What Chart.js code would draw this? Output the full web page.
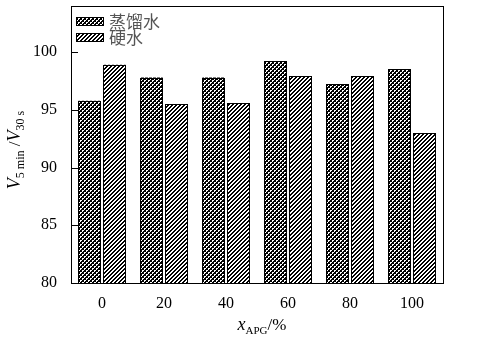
<!DOCTYPE html>
<html>
<head>
<meta charset="utf-8">
<script src="https://cdn.jsdelivr.net/npm/chart.js@4.4.1/dist/chart.umd.min.js"></script>
<style>
  html, body { margin: 0; padding: 0; background: #fff; }
  #wrap { width: 477px; height: 344px; }
</style>
</head>
<body>
<div id="wrap"><canvas id="grafico"></canvas></div>
<script>
// dados
var categorias = ['0', '20', '40', '60', '80', '100'];
var aguaDestilada = [95.8, 97.8, 97.8, 99.2, 97.2, 98.5];
var aguaDura = [98.9, 95.5, 95.6, 97.9, 97.9, 93.0];
var nomesSeries = ['蒸馏水', '硬水'];
var ticksY = [80, 85, 90, 95, 100];

var serif = '"Liberation Serif", "DejaVu Serif", serif';

// cria um padrão a partir de uma função que pinta pixels
function criaPadrao(tam, pinta) {
    var c = document.createElement('canvas');
    c.width = tam; c.height = tam;
    var g = c.getContext('2d');
    g.fillStyle = '#fff';
    g.fillRect(0, 0, tam, tam);
    g.fillStyle = '#000';
    for (var x = 0; x < tam; x++) {
        for (var y = 0; y < tam; y++) {
            if (pinta(x, y)) g.fillRect(x, y, 1, 1);
        }
    }
    return document.createElement('canvas').getContext('2d').createPattern(c, 'repeat');
}

// xadrez com pontos brancos em diagonal
var padraoXadrez = criaPadrao(4, function(x, y) {
    var branco = (x < 2 && y < 2 && !(x === 1 && y === 1)) ||
                 (x >= 2 && y >= 2 && !(x === 3 && y === 3));
    return !branco;
});
// hachura diagonal
var padraoHachura = criaPadrao(4, function(x, y) {
    return (x + y) % 4 === 0 || (x + y) % 4 === 1;
});
var padroes = [padraoXadrez, padraoHachura];

// contorno nítido das barras, a partir dos elementos do próprio gráfico
var contornos = {
    id: 'contornos',
    afterDatasetsDraw: function(chart) {
        var ctx = chart.ctx;
        var fundo = chart.chartArea.bottom;
        ctx.save();
        ctx.strokeStyle = '#000';
        ctx.lineWidth = 1;
        chart.data.datasets.forEach(function(ds, i) {
            chart.getDatasetMeta(i).data.forEach(function(bar) {
                var x0 = Math.round(bar.x - bar.width / 2);
                var x1 = Math.round(bar.x + bar.width / 2);
                var y0 = Math.round(bar.y);
                var y1 = Math.round(Math.min(bar.base, fundo));
                ctx.strokeRect(x0 + 0.5, y0 + 0.5, x1 - x0 - 1, y1 - y0);
            });
        });
        ctx.restore();
    }
};

// moldura, ticks internos, legenda e títulos dos eixos
var extras = {
    id: 'extras',
    afterDraw: function(chart) {
        var ctx = chart.ctx;
        var a = chart.chartArea;
        var y = chart.scales.y;
        ctx.save();
        ctx.strokeStyle = '#000';
        ctx.lineWidth = 1;
        ctx.strokeRect(Math.round(a.left) + 0.5, Math.round(a.top) + 0.5,
                       Math.round(a.right - a.left), Math.round(a.bottom - a.top));
        ticksY.forEach(function(v) {
            var py = Math.round(y.getPixelForValue(v)) + 0.5;
            ctx.beginPath();
            ctx.moveTo(a.left, py);
            ctx.lineTo(a.left + 7, py);
            ctx.stroke();
        });

        // legenda
        nomesSeries.forEach(function(nome, i) {
            var ly = 17 + i * 16;
            ctx.fillStyle = padroes[i];
            ctx.fillRect(76, ly, 28, 9);
            ctx.strokeStyle = '#000';
            ctx.strokeRect(76.5, ly + 0.5, 27, 8);
            ctx.fillStyle = '#555';
            ctx.font = '17px "Noto Sans CJK SC"';
            ctx.textBaseline = 'middle';
            ctx.textAlign = 'left';
            ctx.fillText(nome, 109, ly + 5);
        });

        // título do eixo x
        ctx.fillStyle = '#000';
        ctx.textBaseline = 'alphabetic';
        var partesX = [
            { t: 'x', f: 'italic 18px ' + serif, dy: 0 },
            { t: 'APG', f: '11px ' + serif, dy: 4 },
            { t: '/%', f: '17px ' + serif, dy: 0 }
        ];
        desenhaPartes(ctx, partesX, 262, 330);

        // título do eixo y (rotacionado)
        ctx.save();
        ctx.translate(20, 150);
        ctx.rotate(-Math.PI / 2);
        var partesY = [
            { t: 'V', f: 'italic 18px ' + serif, dy: 0 },
            { t: '5 min', f: '12px ' + serif, dy: 4 },
            { t: ' /', f: '17px ' + serif, dy: 0 },
            { t: 'V', f: 'italic 18px ' + serif, dy: 0 },
            { t: '30 s', f: '12px ' + serif, dy: 4 }
        ];
        desenhaPartes(ctx, partesY, 0, 0);
        ctx.restore();
        ctx.restore();
    }
};

function desenhaPartes(ctx, partes, cx, by) {
    var total = 0;
    partes.forEach(function(p) { ctx.font = p.f; p.w = ctx.measureText(p.t).width; total += p.w; });
    var x = cx - total / 2;
    ctx.textAlign = 'left';
    partes.forEach(function(p) {
        ctx.font = p.f;
        ctx.fillText(p.t, x, by + p.dy);
        x += p.w;
    });
}

var ctx = document.getElementById('grafico').getContext('2d');
var grafico = new Chart(ctx, {
    type: 'bar',
    data: {
        labels: categorias,
        datasets: [{
            label: nomesSeries[0],
            data: aguaDestilada,
            backgroundColor: padraoXadrez,
            borderWidth: 0,
            inflateAmount: 0
        }, {
            label: nomesSeries[1],
            data: aguaDura,
            backgroundColor: padraoHachura,
            borderWidth: 0,
            inflateAmount: 0
        }]
    },
    options: {
        responsive: true,
        maintainAspectRatio: false,
        animation: false,
        layout: { padding: { left: 0, top: 6, right: 34, bottom: 0 } },
        plugins: {
            legend: { display: false },
            tooltip: { enabled: false }
        },
        scales: {
            x: {
                grid: { display: false, drawTicks: false },
                border: { display: false },
                categoryPercentage: 50 / 62,
                barPercentage: 1.0,
                ticks: { color: '#000', padding: 11, font: { family: serif, size: 16 } },
                afterFit: function(s) { s.height = 61; s.paddingLeft = 0; s.paddingRight = 0; }
            },
            y: {
                min: 80,
                max: 104,
                grid: { display: false, drawTicks: false },
                border: { display: false },
                ticks: { color: '#000', padding: 14, font: { family: serif, size: 16 } },
                afterBuildTicks: function(s) {
                    s.ticks = ticksY.map(function(v) { return { value: v }; });
                },
                afterFit: function(s) { s.width = 71; s.paddingTop = 0; s.paddingBottom = 0; }
            }
        }
    },
    plugins: [contornos, extras]
});
</script>
</body>
</html>
